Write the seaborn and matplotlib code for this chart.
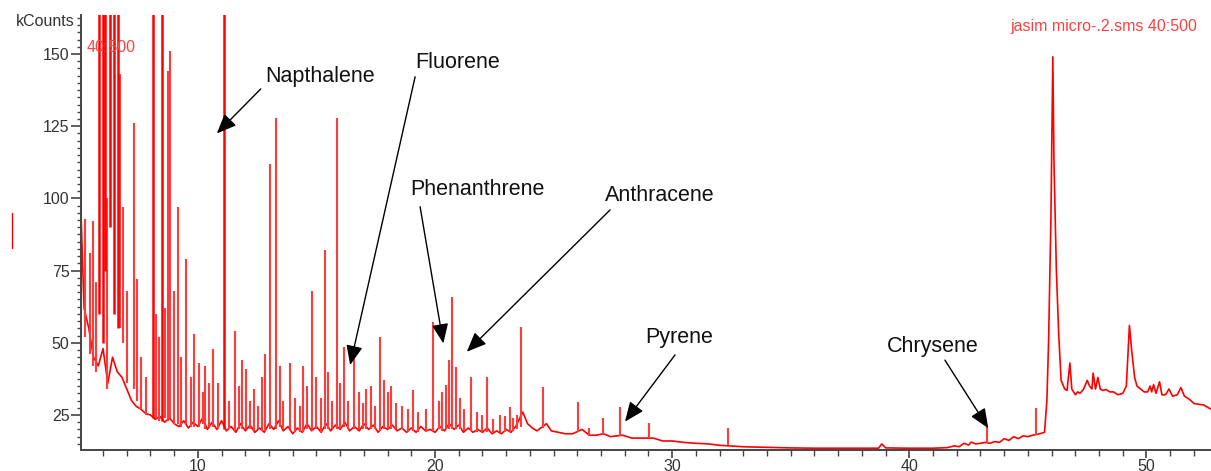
import numpy as np
import pandas as pd
import seaborn as sns
import matplotlib.pyplot as plt
from matplotlib.ticker import MultipleLocator

sns.set_theme(style="white")
plt.rcParams['font.family'] = ['Liberation Sans', 'DejaVu Sans']

# baseline of the trace (retention time in min, kCounts)
trace_time = [5.05, 5.2, 5.4, 5.6, 5.8, 6.0, 6.2, 6.4, 6.6, 6.8, 7.0, 7.2, 7.4, 7.6, 7.8, 8.0,
              8.2, 8.4, 8.6, 8.8, 9.0, 9.2, 9.4, 9.6, 9.8, 10.0, 10.2, 10.4, 10.6, 10.8, 11.0,
              11.2, 11.4, 11.6, 11.8, 12.0, 12.2, 12.4, 12.6, 12.8, 13.0, 13.2, 13.4, 13.6,
              13.8, 14.0, 14.2, 14.4, 14.6, 14.8, 15.0, 15.2, 15.4, 15.6, 15.8, 16.0, 16.2,
              16.4, 16.6, 16.8, 17.0, 17.2, 17.4, 17.6, 17.8, 18.0, 18.2, 18.4, 18.6, 18.8,
              19.0, 19.2, 19.4, 19.6, 19.8, 20.0, 20.2, 20.4, 20.6, 20.8, 21.0, 21.2, 21.4,
              21.6, 21.8, 22.0, 22.2, 22.4, 22.6, 22.8, 23.0, 23.2, 23.4, 23.7, 23.9, 24.1,
              24.3, 24.7, 24.9, 25.2, 25.5, 25.8, 26.2, 26.5, 26.8, 27.1, 27.4, 27.9, 28.3,
              28.7, 29.2, 29.6, 30.0, 30.5, 31.0, 31.5, 32.0, 32.6, 33.0, 34.0, 35.0, 36.0,
              37.0, 38.0, 38.7, 38.84, 39.0, 40.0, 41.0, 41.6, 41.9, 42.1, 42.3, 42.5, 42.6,
              42.8, 43.0, 43.2, 43.4, 43.6, 43.8, 44.0, 44.2, 44.4, 44.6, 44.8, 45.0, 45.2,
              45.5, 45.7, 45.8, 45.87, 45.97, 46.05, 46.1, 46.2, 46.3, 46.4, 46.55, 46.65,
              46.77, 46.85, 47.0, 47.1, 47.2, 47.35, 47.5, 47.6, 47.7, 47.75, 47.85, 47.95,
              48.05, 48.15, 48.3, 48.45, 48.6, 48.8, 49.0, 49.15, 49.28, 49.38, 49.5, 49.6,
              49.75, 49.9, 50.05, 50.15, 50.22, 50.3, 50.4, 50.55, 50.65, 50.8, 50.95, 51.1,
              51.3, 51.45, 51.6, 51.8, 52.0, 52.2, 52.4, 52.55, 52.72]
trace_kcounts = [100, 62, 55, 45, 42, 48, 36, 45, 40, 38, 34, 30, 28, 27, 25.5, 25,
                 23.5, 24.5, 22.5, 24, 22, 21, 23, 20.5, 22.5, 21, 24, 20, 22.5, 20, 23,
                 19.5, 21, 19, 22, 19.5, 21.5, 19, 20.5, 19, 22, 20, 23, 19.5,
                 21, 18.5, 20.5, 19, 22, 19.5, 21, 19, 22, 19.5, 21.5, 20, 22.5,
                 19.5, 21, 19.5, 22, 20, 21.5, 19, 21, 20, 21.5, 19.5, 20.5, 19,
                 20.5, 19, 21, 19.5, 20, 19, 21, 19.5, 22, 20, 21.5, 19, 20.5,
                 19, 20, 19, 20.5, 18.5, 19.5, 18.5, 20, 19, 21, 26, 22, 20.5,
                 19.5, 22, 19.5, 19, 18.5, 18.5, 20, 18, 18, 18.5, 17.5, 18, 17,
                 17, 17, 16, 16, 15.5, 15.2, 15, 14.5, 14.2, 14, 13.8, 13.6, 13.5,
                 13.5, 13.5, 13.5, 15, 13.6, 13.5, 13.5, 13.7, 14.3, 14.0, 15.2, 14.6, 15.6,
                 15, 15.2, 15.5, 15.2, 15.8, 15.5, 16.8, 16.2, 17.5, 16.8, 17.8, 17.5, 18,
                 18.5, 19, 30, 50, 93, 149, 112, 75, 52.6, 37, 34, 33.5,
                 43, 34, 32, 33, 32.5, 34, 37, 35, 34, 39.5, 34, 38,
                 34, 33.5, 33.8, 33, 33, 32, 32.5, 35, 56, 47, 38, 35,
                 34, 33, 33, 35, 33, 35.5, 32.5, 36.5, 32, 32, 34, 31.5,
                 32, 34.5, 31.5, 30.5, 29, 28.7, 28.5, 27.8, 27]

# sharp peaks: time, apex, foot
peak_time = [5.08, 5.25, 5.45, 5.58, 5.72, 6.15, 6.72, 6.85, 7.02, 7.3, 7.42, 7.6, 7.82,
             8.22, 8.35, 8.62, 8.75, 8.83, 9.0, 9.15, 9.3, 9.5, 9.7, 9.85, 10.05, 10.2,
             10.32, 10.45, 10.63, 10.85, 11.3, 11.57, 11.75, 11.88, 12.02, 12.2, 12.35,
             12.55, 12.7, 12.85, 13.05, 13.3, 13.45, 13.6, 13.9, 14.1, 14.3, 14.45, 14.62,
             14.8, 15.0, 15.2, 15.34, 15.5, 15.65, 15.86, 16.0, 16.14, 16.32, 16.6, 16.8,
             16.95, 17.1, 17.28, 17.45, 17.66, 17.85, 18.0, 18.15, 18.35, 18.6, 18.85,
             19.05, 19.3, 19.6, 19.93, 20.15, 20.3, 20.46, 20.6, 20.7, 20.89, 21.05, 21.22,
             21.5, 21.75, 22.0, 22.2, 22.45, 22.75, 22.95, 23.15, 23.3, 23.45, 23.63, 24.55,
             26.03, 26.5, 27.1, 27.78, 29.03, 32.37, 43.27, 45.34]
peak_top = [133, 93, 81, 92, 71, 100, 143, 97, 68, 126, 72, 45, 38,
            60, 52, 62, 144, 151, 68, 97, 45, 79, 38, 53, 43, 33,
            42, 36, 48, 36, 30, 54, 35, 44, 41, 30, 34,
            28, 38, 46, 112, 128, 42, 30, 43, 31, 28, 42, 35,
            68, 38, 31, 82, 40, 30, 128, 36, 48.6, 30, 46.5, 33,
            29, 34, 35, 28, 52, 37, 33, 35, 29, 28, 27,
            33.7, 26, 27, 57.3, 30, 33, 35.4, 44, 66, 41.7, 31, 27,
            38.3, 26, 25, 38, 23.5, 25, 24.5, 27.8, 24, 25, 55.6, 34.8,
            29.6, 20.5, 24, 27.9, 22.1, 20.4, 21, 27.4]
peak_foot = [60, 52, 46, 42, 40, 34, 55, 50, 36, 34, 30, 27, 25,
             24, 23, 24, 23, 24, 22, 22, 21, 22, 21, 21, 21, 22,
             20, 21, 21, 20, 20, 19.5, 20, 20, 20, 20, 19.5,
             20, 19.5, 19.5, 20, 20, 21, 20, 20, 19, 19, 19, 20,
             19.5, 20, 19, 20, 20, 20, 20, 20, 21, 20, 20, 20,
             20, 20, 20, 20, 19.5, 20, 20, 20, 20, 20, 19,
             19.5, 19, 19, 19.5, 20, 19.5, 20, 20, 20, 20, 20, 19.5,
             19.5, 19, 19, 19, 19, 19, 19, 19, 19.5, 20, 21, 20.5,
             19, 18, 18, 17.8, 17, 14.5, 15.3, 18.2]

# peaks running off the top of the scale
offscale_time = [5.85, 5.98, 6.08, 6.28, 6.45, 6.62, 8.12, 8.49, 11.1]
offscale_foot = [60, 50, 75, 90, 60, 55, 24, 23, 20]
offscale_top = 170

compounds = ["Napthalene", "Fluorene", "Phenanthrene", "Anthracene", "Pyrene", "Chrysene"]
label_time = [15.17, 20.95, 21.79, 29.46, 30.29, 41.0]
label_kcounts = [140.3, 145.0, 101.2, 99.1, 49.8, 46.8]
tail_time = [12.65, 19.16, 19.37, 27.38, 30.12, 41.5]
tail_kcounts = [137.9, 142.1, 97.1, 96.0, 45.8, 44.0]
tip_time = [10.8, 16.42, 20.35, 21.34, 28.01, 43.33]
tip_kcounts = [122.5, 42.3, 49.8, 46.9, 22.7, 20.4]

red = "#ff0000"
df = pd.DataFrame({"time": trace_time, "kcounts": trace_kcounts})

fig = plt.figure(figsize=(12.11, 4.71), dpi=100)
ax = fig.add_axes([80.5 / 1211, 1 - 449.5 / 471, 1 - 80.5 / 1211, (449.5 - 15) / 471])

sns.lineplot(data=df, x="time", y="kcounts", ax=ax, color=red, lw=1.2,
             estimator=None, sort=False)
ax.vlines(peak_time, peak_foot, peak_top, color="#ff3b3b", lw=1.5)
ax.vlines(offscale_time, offscale_foot, offscale_top, color=red, lw=1.8)

for name, lt, ly, at, ay, pt, py in zip(compounds, label_time, label_kcounts,
                                        tail_time, tail_kcounts, tip_time, tip_kcounts):
    ax.text(lt, ly, name, ha="center", va="baseline", fontsize=15.5, color="#111111")
    ax.annotate("", xy=(pt, py), xytext=(at, ay),
                arrowprops=dict(arrowstyle="-|>,head_length=1.0,head_width=0.42",
                                mutation_scale=12, color="black", lw=1.0,
                                shrinkA=0, shrinkB=0))

ax.set_xlim(5.05, 52.72)
ax.set_ylim(13.05, 163.5)
ax.xaxis.set_major_locator(MultipleLocator(10))
ax.xaxis.set_minor_locator(MultipleLocator(1))
ax.yaxis.set_major_locator(MultipleLocator(25))
ax.yaxis.set_minor_locator(MultipleLocator(2.5))
ax.set_xlabel("")
ax.set_ylabel("")

sns.despine(ax=ax)
for side in ["left", "bottom"]:
    ax.spines[side].set_color("#444444")
    ax.spines[side].set_linewidth(1.4)
ax.tick_params(axis="both", which="both", direction="out", color="#444444",
               labelcolor="#333333", labelsize=11.5, left=True, bottom=True)
ax.tick_params(axis="y", which="major", length=7, width=1.2, pad=1)
ax.tick_params(axis="y", which="minor", length=3, width=1.0)
ax.tick_params(axis="x", which="major", length=6, width=1.2, pad=1)
ax.tick_params(axis="x", which="minor", length=4, width=1.0)

fig.text(75 / 1211, 1 - 22 / 471, "kCounts", ha="right", va="center",
         fontsize=11.5, color="#333333")
fig.text(87 / 1211, 1 - 47 / 471, "40:500", ha="left", va="center",
         fontsize=11.5, color="#ff4040")
fig.text(1010 / 1211, 1 - 27 / 471, "jasim micro-.2.sms 40:500", ha="left", va="center",
         fontsize=11.5, color="#ff4040")
fig.add_artist(plt.Line2D([12 / 1211, 12 / 1211], [1 - 213 / 471, 1 - 248 / 471],
                          color=red, lw=1.0))

fig.savefig("out.png", dpi=100)
